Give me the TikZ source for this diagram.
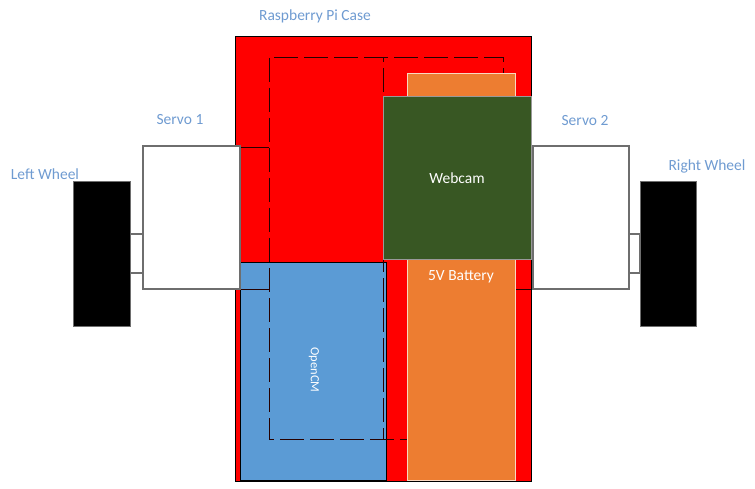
\documentclass[tikz,border=0pt]{standalone}
\usepackage{fontspec}
\setmainfont{Carlito}
\definecolor{lbl}{HTML}{6F9BD1}
\definecolor{caseRed}{HTML}{FF0000}
\definecolor{batOrange}{HTML}{ED7D31}
\definecolor{camGreen}{HTML}{385723}
\definecolor{cmBlue}{HTML}{5B9BD5}
\definecolor{edgeGray}{HTML}{6E6E6E}
\begin{document}
\begin{tikzpicture}[x=1pt,y=-1pt,
  box/.style={rectangle,inner sep=0pt,outer sep=0pt,anchor=north west},
  label text/.style={text=lbl,font=\fontsize{15.5}{18}\selectfont},
  inner text/.style={text=white,font=\fontsize{15.5}{18}\selectfont},
  hidden/.style={draw=black!85!red,line width=0.9pt,dash pattern=on 24pt off 6pt,dash phase=-11pt}]
\useasboundingbox (0,0) rectangle (755,489);
% case
\node[box,fill=caseRed,draw=black,line width=1pt,minimum width=296pt,minimum height=444pt] (case) at (235,37) {};
% OpenCM
\node[box,fill=cmBlue,draw=black,line width=1pt,minimum width=146pt,minimum height=218pt] (cm) at (240,262) {};
% Raspberry Pi board (hidden outline)
\node[box,hidden,minimum width=234pt,minimum height=382pt] (pi) at (269,57) {};
\coordinate (divtop) at (383,57);
\coordinate (divbot) at (383,439);
\draw[hidden] (divtop) -- (divbot);
% hidden servo parts
\coordinate (s1a) at (240,147);
\coordinate (s1b) at (269,147);
\coordinate (s1c) at (240,289);
\coordinate (s1d) at (269,289);
\coordinate (s2a) at (503,289);
\coordinate (s2b) at (531,289);
\draw[black!85!red,line width=0.9pt] (s1a) -- (s1b) (s1c) -- (s1d) (s2a) -- (s2b);
% battery
\node[box,fill=batOrange,draw=white!70!batOrange,line width=1pt,minimum width=108pt,minimum height=406pt] (bat) at (407,74) {};
\node[inner text] (battxt) at (461,277) {5V Battery};
% webcam
\node[box,fill=camGreen,draw=white!60!black,line width=1pt,minimum width=148pt,minimum height=162pt] (cam) at (383,97) {};
\node[inner text] (camtxt) at (cam.center) {Webcam};
\node[inner text,font=\fontsize{12.5}{14}\selectfont,rotate=-90] (cmtxt) at (314,370) {OpenCM};
% servos
\node[box,fill=white,draw=edgeGray,line width=1.1pt,minimum width=97pt,minimum height=143pt] (servo1) at (143,146) {};
\node[box,fill=white,draw=edgeGray,line width=1.1pt,minimum width=96pt,minimum height=143pt] (servo2) at (533,146) {};
% shafts
\node[box,fill=white,draw=edgeGray,line width=1.1pt,minimum width=13pt,minimum height=39pt] (shaft1) at (130,234) {};
\node[box,fill=white,draw=edgeGray,line width=1.1pt,minimum width=11pt,minimum height=39pt] (shaft2) at (629,234) {};
% wheels
\node[box,fill=black,draw=edgeGray,line width=0.8pt,minimum width=57pt,minimum height=145pt] (lw) at (73,181) {};
\node[box,fill=black,draw=edgeGray,line width=0.8pt,minimum width=56pt,minimum height=145pt] (rw) at (640,181) {};
% labels
\node[label text] (casetxt) at (315,16) {Raspberry Pi Case};
\node[label text] (s1txt) at (180,120) {Servo 1};
\node[label text] (s2txt) at (585,121) {Servo 2};
\node[label text] (lwtxt) at (45,174) {Left Wheel};
\node[label text] (rwtxt) at (707,166) {Right Wheel};
\end{tikzpicture}
\end{document}
